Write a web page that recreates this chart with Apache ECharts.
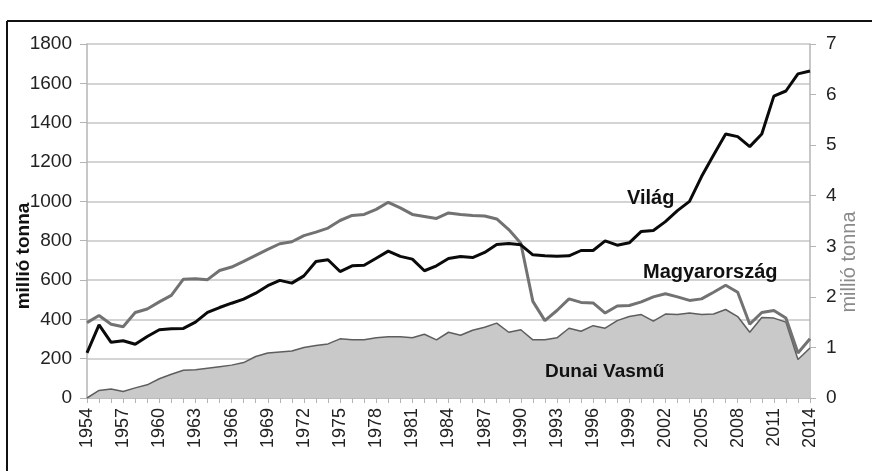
<!DOCTYPE html>
<html>
<head>
<meta charset="utf-8">
<script src="https://cdn.jsdelivr.net/npm/echarts@6/dist/echarts.min.js"></script>
<style>
  html, body { margin: 0; padding: 0; background: #fff; }
  #chart { width: 872px; height: 471px; }
</style>
</head>
<body>
<div id="chart"></div>
<script>
// years 1954..2014
var years = ['1954','1955','1956','1957','1958','1959','1960','1961','1962','1963',
  '1964','1965','1966','1967','1968','1969','1970','1971','1972','1973',
  '1974','1975','1976','1977','1978','1979','1980','1981','1982','1983',
  '1984','1985','1986','1987','1988','1989','1990','1991','1992','1993',
  '1994','1995','1996','1997','1998','1999','2000','2001','2002','2003',
  '2004','2005','2006','2007','2008','2009','2010','2011','2012','2013','2014'];

// world steel output, million t (left axis)
var vilag = [229, 372, 283, 291, 273, 313, 347, 352, 354, 386,
  435, 460, 482, 503, 533, 571, 598, 584, 621, 694,
  703, 643, 672, 675, 711, 747, 720, 706, 647, 672,
  709, 720, 714, 740, 780, 786, 779, 728, 723, 721,
  723, 750, 750, 799, 777, 789, 847, 852, 897, 953,
  1000, 1126, 1236, 1342, 1329, 1278, 1342, 1535, 1561, 1648, 1663];

// Hungary, million t (right axis)
var magyarorszag = [1.49, 1.63, 1.46, 1.41, 1.69, 1.76, 1.90, 2.03, 2.35, 2.36,
  2.34, 2.52, 2.59, 2.70, 2.82, 2.94, 3.05, 3.09, 3.21, 3.28,
  3.36, 3.51, 3.61, 3.63, 3.73, 3.87, 3.76, 3.63, 3.59, 3.55,
  3.66, 3.63, 3.61, 3.60, 3.54, 3.33, 3.06, 1.91, 1.53, 1.73,
  1.96, 1.89, 1.88, 1.68, 1.82, 1.83, 1.90, 2.00, 2.06, 2.00,
  1.93, 1.96, 2.09, 2.23, 2.09, 1.46, 1.69, 1.73, 1.58, 0.89, 1.17];

// Dunai Vasmű, million t (right axis)
var dunai = [0, 0.15, 0.18, 0.13, 0.20, 0.26, 0.38, 0.47, 0.55, 0.56,
  0.59, 0.62, 0.65, 0.70, 0.82, 0.89, 0.91, 0.93, 1.00, 1.04,
  1.07, 1.17, 1.15, 1.15, 1.19, 1.21, 1.21, 1.19, 1.26, 1.15,
  1.30, 1.24, 1.34, 1.40, 1.48, 1.30, 1.35, 1.15, 1.15, 1.19,
  1.38, 1.32, 1.43, 1.38, 1.53, 1.61, 1.65, 1.52, 1.66, 1.65,
  1.68, 1.65, 1.66, 1.75, 1.61, 1.30, 1.59, 1.58, 1.50, 0.76, 0.99];

var font = 'Liberation Sans, Arial, sans-serif';
var axisGray = '#b4b4b4';

var chart = echarts.init(document.getElementById('chart'), null, { renderer: 'canvas' });

chart.setOption({
  animation: false,
  backgroundColor: '#fff',
  textStyle: { fontFamily: font },
  grid: { left: 87, right: 62, top: 44, bottom: 73, containLabel: false },
  xAxis: {
    type: 'category',
    data: years,
    boundaryGap: false,
    axisLine: { lineStyle: { color: axisGray, width: 1.5 } },
    axisTick: { interval: 0, length: 5, lineStyle: { color: axisGray } },
    axisLabel: { interval: 2, rotate: 90, fontSize: 18, color: '#222', margin: 10, fontFamily: font }
  },
  yAxis: [{
    type: 'value',
    min: 0, max: 1800, interval: 200,
    axisLine: { show: true, lineStyle: { color: axisGray, width: 1.5 } },
    axisTick: { show: true, length: 7, lineStyle: { color: axisGray } },
    axisLabel: { fontSize: 19, color: '#222', margin: 15, fontFamily: font,
      formatter: function (v) { return String(v); } },
    splitLine: { lineStyle: { color: '#c6c6c6', width: 1.5 } }
  }, {
    type: 'value',
    position: 'right',
    min: 0, max: 7, interval: 1,
    axisLine: { show: true, lineStyle: { color: axisGray, width: 1.5 } },
    axisTick: { show: true, length: 6, lineStyle: { color: axisGray } },
    axisLabel: { fontSize: 19, color: '#222', margin: 16, fontFamily: font },
    splitLine: { show: false }
  }],
  series: [{
    name: 'Dunai Vasmű',
    type: 'line',
    yAxisIndex: 1,
    data: dunai,
    symbol: 'none',
    lineStyle: { color: '#5e5e5e', width: 1.5 },
    areaStyle: { color: '#c9c9c9', opacity: 1 },
    z: 2
  }, {
    name: 'Magyarország',
    type: 'line',
    yAxisIndex: 1,
    data: magyarorszag,
    symbol: 'none',
    lineStyle: { color: '#727272', width: 3 },
    z: 3
  }, {
    name: 'Világ',
    type: 'line',
    yAxisIndex: 0,
    data: vilag,
    symbol: 'none',
    lineStyle: { color: '#0a0a0a', width: 3 },
    z: 4
  }],
  graphic: [
    // frame
    { type: 'line', shape: { x1: 7, y1: 21, x2: 872, y2: 21 }, style: { stroke: '#111', lineWidth: 2 } },
    { type: 'line', shape: { x1: 7, y1: 21, x2: 7, y2: 471 }, style: { stroke: '#111', lineWidth: 2 } },
    // axis names
    { type: 'text', x: 24, y: 256, rotation: Math.PI / 2,
      style: { text: 'millió tonna', font: 'bold 19px ' + font, fill: '#111', align: 'center', verticalAlign: 'middle' } },
    { type: 'text', x: 849, y: 262, rotation: Math.PI / 2,
      style: { text: 'millió tonna', font: '20px ' + font, fill: '#8a8a8a', align: 'center', verticalAlign: 'middle' } },
    // series labels
    { type: 'text', x: 627, y: 198, z: 10,
      style: { text: 'Világ', font: 'bold 20px ' + font, fill: '#111', align: 'left', verticalAlign: 'middle' } },
    { type: 'text', x: 643, y: 272, z: 10,
      style: { text: 'Magyarország', font: 'bold 20px ' + font, fill: '#111', align: 'left', verticalAlign: 'middle' } },
    { type: 'text', x: 545, y: 372, z: 10,
      style: { text: 'Dunai Vasmű', font: 'bold 19px ' + font, fill: '#111', align: 'left', verticalAlign: 'middle' } }
  ]
});
</script>
</body>
</html>
